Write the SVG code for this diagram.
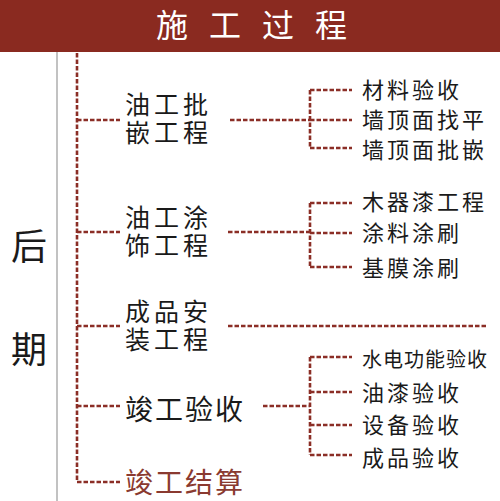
<svg xmlns="http://www.w3.org/2000/svg" width="500" height="501" viewBox="0 0 500 501">
<style>
.t{font-family:"Noto Sans CJK SC","Noto Sans",sans-serif;fill:#1a1a1a}
.g{font-family:"Liberation Sans","Noto Sans CJK SC",sans-serif;font-size:25px;letter-spacing:4px}
.l{font-size:22px;letter-spacing:3px}
.c{fill:none;stroke:#8b2e26;stroke-width:2.6;stroke-dasharray:4.5 2}
</style>
<rect x="0" y="0" width="500" height="501" fill="#ffffff"/>
<g id="header">
<rect x="0" y="0" width="500" height="52" fill="#8a2a20"/>
<text x="156" y="37" class="t" style="font-size:32px;letter-spacing:21px;fill:#ffffff">施工过程</text>
</g>
<g id="phase">
<line x1="57" y1="52" x2="57" y2="501" stroke="#999999" stroke-width="1.2"/>
<text x="29" y="260" class="t" style="font-size:36px" text-anchor="middle">后</text>
<text x="29" y="363" class="t" style="font-size:36px" text-anchor="middle">期</text>
</g>
<g id="connectors">
<path class="c" d="M77 53V482H120"/>
<path class="c" d="M77 120H120M77 232H120M77 326H120M77 406H120"/>
<path class="c" d="M230 120H310M310 90V148M310 90H352M310 120H352M310 148H352"/>
<path class="c" d="M228 232H310M310 203V267M310 203H352M310 233H352M310 267H352"/>
<path class="c" d="M228 326H488"/>
<path class="c" d="M263 406H310M310 357V455M310 357H352M310 392H352M310 425H352M310 455H352"/>
</g>
<g id="n1">
<text class="t g"><tspan x="125" y="114">油工批</tspan><tspan x="125" y="142">嵌工程</tspan></text>
</g>
<g id="n1a"><text x="362" y="98" class="t l">材料验收</text></g>
<g id="n1b"><text x="362" y="128" class="t l">墙顶面找平</text></g>
<g id="n1c"><text x="362" y="158" class="t l">墙顶面批嵌</text></g>
<g id="n2">
<text class="t g"><tspan x="125" y="227">油工涂</tspan><tspan x="125" y="255">饰工程</tspan></text>
</g>
<g id="n2a"><text x="362" y="210" class="t l">木器漆工程</text></g>
<g id="n2b"><text x="362" y="241" class="t l">涂料涂刷</text></g>
<g id="n2c"><text x="362" y="276" class="t l">基膜涂刷</text></g>
<g id="n3">
<text class="t g"><tspan x="125" y="321">成品安</tspan><tspan x="125" y="349">装工程</tspan></text>
</g>
<g id="n4"><text x="125" y="420" class="t" style="font-size:28px;letter-spacing:2px">竣工验收</text></g>
<g id="n4a"><text x="362" y="367" class="t" style="font-size:20px;letter-spacing:1px">水电功能验收</text></g>
<g id="n4b"><text x="362" y="401" class="t l">油漆验收</text></g>
<g id="n4c"><text x="362" y="433" class="t l">设备验收</text></g>
<g id="n4d"><text x="362" y="466" class="t l">成品验收</text></g>
<g id="n5"><text x="125" y="493" class="t" style="font-size:28px;letter-spacing:2px;fill:#8a3a30">竣工结算</text></g>
</svg>
